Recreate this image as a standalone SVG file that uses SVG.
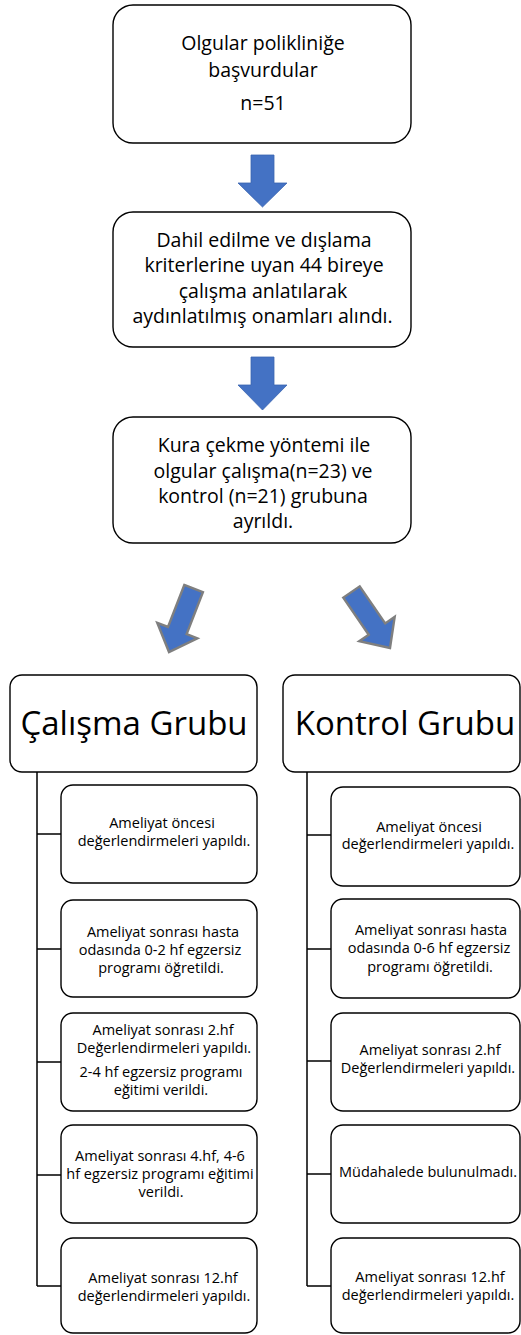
<svg xmlns="http://www.w3.org/2000/svg" width="521" height="1335" viewBox="0 0 521 1335">
<defs>
<style>
.box{fill:#fff;stroke:#000;stroke-width:1.4}
.t{font-family:"Open Sans","Noto Sans","Liberation Sans",sans-serif;fill:#000;text-anchor:middle}
.m{font-size:19.5px}
.g{font-size:33px}
.s{font-size:14.5px}
.down{fill:#4472C4;stroke:#3A64B0;stroke-width:0.8}
.diag{fill:#4472C4;stroke:#7F7F7F;stroke-width:2.4;stroke-linejoin:miter}
.conn{fill:none;stroke:#000;stroke-width:1.5}
</style>
<polygon id="darrow" points="-10,-68 10,-68 10,-23 21.5,-23 0,0 -21.5,-23 -10,-23"/>
</defs>

<g id="connectors">
<polygon class="down" points="251,155 274,155 274,183 287,183 262.5,207 238,183 251,183"/>
<polygon class="down" points="251,357 274,357 274,385 287,385 262.5,410 238,385 251,385"/>
<use href="#darrow" class="diag" transform="translate(169,652) rotate(21.2)"/>
<use href="#darrow" class="diag" transform="translate(390,648) rotate(-34.5)"/>
<path class="conn" d="M37,772 V1286 M37,834 H61 M37,949 H61 M37,1062 H61 M37,1175 H61 M37,1286 H61"/>
<path class="conn" d="M307,772 V1286 M307,835 H331 M307,949 H331 M307,1061 H331 M307,1174 H331 M307,1286 H331"/>
</g>

<g id="n1">
<rect class="box" x="113" y="5" width="298" height="138" rx="20"/>
<text class="t m" x="263" y="50">Olgular polikliniğe</text>
<text class="t m" x="263" y="77">başvurdular</text>
<text class="t m" x="263" y="110">n=51</text>
</g>

<g id="n2">
<rect class="box" x="113" y="212" width="298" height="135" rx="20"/>
<text class="t m" x="264" y="247">Dahil edilme ve dışlama</text>
<text class="t m" x="264" y="272">kriterlerine uyan 44 bireye</text>
<text class="t m" x="263" y="298">çalışma anlatılarak</text>
<text class="t m" x="262.5" y="323">aydınlatılmış onamları alındı.</text>
</g>

<g id="n3">
<rect class="box" x="113" y="417" width="298" height="126" rx="20"/>
<text class="t m" x="264" y="452">Kura çekme yöntemi ile</text>
<text class="t m" x="263" y="478">olgular çalışma(n=23) ve</text>
<text class="t m" x="263" y="503">kontrol (n=21) grubuna</text>
<text class="t m" x="263" y="528">ayrıldı.</text>
</g>

<g id="calisma">
<rect class="box" x="10" y="675" width="247" height="97" rx="12"/>
<text class="t g" x="134" y="735">Çalışma Grubu</text>
</g>

<g id="kontrol">
<rect class="box" x="283" y="675" width="237" height="97" rx="12"/>
<text class="t g" x="405" y="735">Kontrol Grubu</text>
</g>

<g id="c1">
<rect class="box" x="61" y="785" width="196" height="98" rx="12"/>
<text class="t s" x="162" y="828">Ameliyat öncesi</text>
<text class="t s" x="164" y="846">değerlendirmeleri yapıldı.</text>
</g>
<g id="c2">
<rect class="box" x="61" y="900" width="196" height="97" rx="12"/>
<text class="t s" x="163" y="937">Ameliyat sonrası hasta</text>
<text class="t s" x="160" y="955">odasında 0-2 hf egzersiz</text>
<text class="t s" x="161" y="973">programı öğretildi.</text>
</g>
<g id="c3">
<rect class="box" x="61" y="1013" width="196" height="98" rx="12"/>
<text class="t s" x="163" y="1035">Ameliyat sonrası 2.hf</text>
<text class="t s" x="164" y="1053">Değerlendirmeleri yapıldı.</text>
<text class="t s" x="161" y="1077">2-4 hf egzersiz programı</text>
<text class="t s" x="161" y="1095">eğitimi verildi.</text>
</g>
<g id="c4">
<rect class="box" x="61" y="1125" width="196" height="98" rx="12"/>
<text class="t s" x="160" y="1161">Ameliyat sonrası 4.hf, 4-6</text>
<text class="t s" x="160" y="1179">hf egzersiz programı eğitimi</text>
<text class="t s" x="161" y="1197">verildi.</text>
</g>
<g id="c5">
<rect class="box" x="61" y="1238" width="196" height="95" rx="12"/>
<text class="t s" x="163" y="1283">Ameliyat sonrası 12.hf</text>
<text class="t s" x="164" y="1301">değerlendirmeleri yapıldı.</text>
</g>

<g id="k1">
<rect class="box" x="331" y="787" width="189" height="99" rx="12"/>
<text class="t s" x="429" y="832">Ameliyat öncesi</text>
<text class="t s" x="428" y="849">değerlendirmeleri yapıldı.</text>
</g>
<g id="k2">
<rect class="box" x="331" y="899" width="189" height="99" rx="12"/>
<text class="t s" x="431" y="935">Ameliyat sonrası hasta</text>
<text class="t s" x="429" y="953">odasında 0-6 hf egzersiz</text>
<text class="t s" x="430" y="972">programı öğretildi.</text>
</g>
<g id="k3">
<rect class="box" x="331" y="1013" width="189" height="98" rx="12"/>
<text class="t s" x="430" y="1055">Ameliyat sonrası 2.hf</text>
<text class="t s" x="428" y="1073">Değerlendirmeleri yapıldı.</text>
</g>
<g id="k4">
<rect class="box" x="331" y="1125" width="189" height="98" rx="12"/>
<text class="t s" x="428" y="1177">Müdahalede bulunulmadı.</text>
</g>
<g id="k5">
<rect class="box" x="331" y="1238" width="189" height="95" rx="12"/>
<text class="t s" x="430" y="1282">Ameliyat sonrası 12.hf</text>
<text class="t s" x="428" y="1300">değerlendirmeleri yapıldı.</text>
</g>
</svg>
